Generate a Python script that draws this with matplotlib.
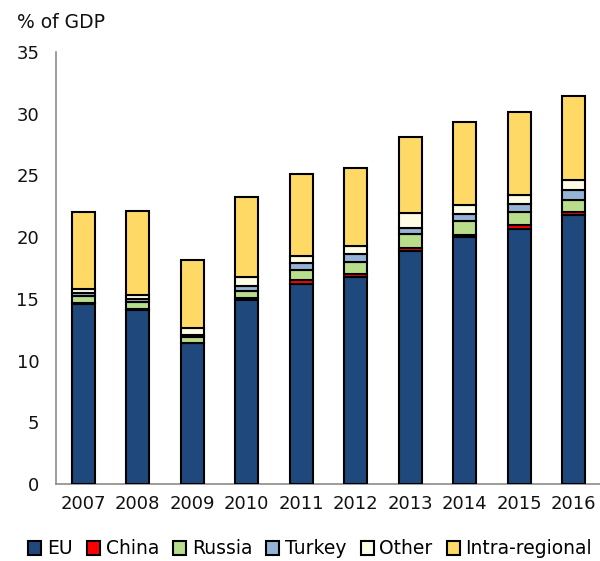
import numpy as np
import matplotlib.pyplot as plt

plt.rcParams['font.family'] = ['DejaVu Sans']

years = ['2007', '2008', '2009', '2010', '2011', '2012', '2013', '2014', '2015', '2016']

# stacked components, % of GDP
eu = [14.6, 14.1, 11.4, 14.9, 16.2, 16.8, 18.9, 20.0, 20.7, 21.8]
china = [0.1, 0.05, 0.05, 0.2, 0.3, 0.2, 0.25, 0.2, 0.3, 0.2]
russia = [0.5, 0.6, 0.45, 0.55, 0.8, 1.0, 1.1, 1.1, 1.0, 1.0]
turkey = [0.3, 0.2, 0.15, 0.4, 0.6, 0.6, 0.5, 0.55, 0.65, 0.8]
other = [0.3, 0.4, 0.6, 0.7, 0.55, 0.7, 1.2, 0.75, 0.8, 0.8]
intra = [6.2, 6.75, 5.5, 6.5, 6.65, 6.3, 6.2, 6.7, 6.65, 6.8]

series = [eu, china, russia, turkey, other, intra]
names = ['EU', 'China', 'Russia', 'Turkey', 'Other', 'Intra-regional']
colors = ['#1f497d', '#ff0000', '#b8de8c', '#95b3d7', '#fdfde6', '#ffd966']

fig = plt.figure(figsize=(6.0, 5.61), dpi=100)
ax = fig.add_axes([56 / 600, 77 / 561, 545 / 600, 432 / 561])

x = np.arange(len(years))
bottom = np.zeros(len(years))
handles = []
for vals, name, col in zip(series, names, colors):
    vals = np.array(vals)
    b = ax.bar(x, vals, 0.42, bottom=bottom, color=col, edgecolor='black',
               linewidth=1.5, label=name, zorder=3)
    handles.append(b)
    bottom += vals

ax.set_xlim(-0.5, 9.5)
ax.set_ylim(0, 35)
ax.set_yticks(range(0, 36, 5))
ax.set_xticks(x)
ax.set_xticklabels(years)
ax.tick_params(axis='both', length=0, labelsize=13, colors='#111111')
ax.tick_params(axis='y', pad=12)
ax.tick_params(axis='x', pad=8)

for s in ['top', 'right']:
    ax.spines[s].set_visible(False)
for s in ['left', 'bottom']:
    ax.spines[s].set_color('#8c8c8c')
    ax.spines[s].set_linewidth(1.2)

fig.text(17 / 600, 1 - 22 / 561, '% of GDP', fontsize=13.5, va='center', ha='left',
         color='#111111')

leg = fig.legend(handles=handles, labels=names, loc='center', ncol=6,
                 bbox_to_anchor=(0.517, 1 - 549 / 561), frameon=False,
                 fontsize=13.5, handlelength=0.7, handleheight=0.7,
                 handletextpad=0.3, columnspacing=0.75, borderaxespad=0)

fig.savefig('out.png', dpi=100)
